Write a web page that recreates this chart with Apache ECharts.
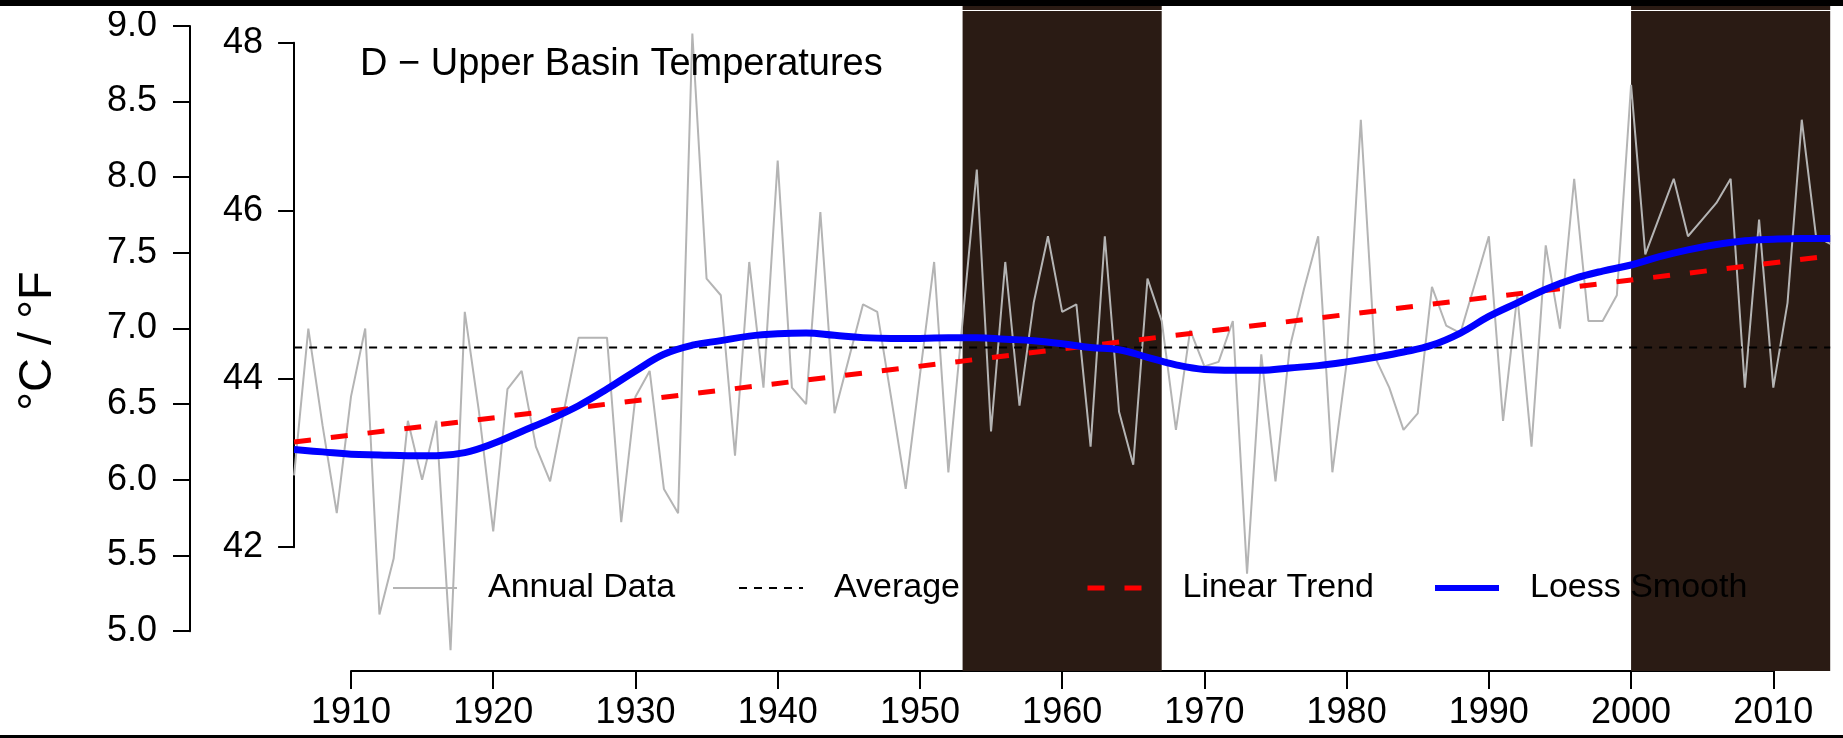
<!DOCTYPE html>
<html><head><meta charset="utf-8">
<script src="https://cdn.jsdelivr.net/npm/echarts@6/dist/echarts.min.js"></script>
<style>html,body{margin:0;padding:0;background:#fff}#c{width:1843px;height:738px}</style>
</head><body><div id="c"></div>
<script>
// ---------------- data (°C) ----------------
const years = [1906,1907,1908,1909,1910,1911,1912,1913,1914,1915,
  1916,1917,1918,1919,1920,1921,1922,1923,1924,1925,
  1926,1927,1928,1929,1930,1931,1932,1933,1934,1935,
  1936,1937,1938,1939,1940,1941,1942,1943,1944,1945,
  1946,1947,1948,1949,1950,1951,1952,1953,1954,1955,
  1956,1957,1958,1959,1960,1961,1962,1963,1964,1965,
  1966,1967,1968,1969,1970,1971,1972,1973,1974,1975,
  1976,1977,1978,1979,1980,1981,1982,1983,1984,1985,
  1986,1987,1988,1989,1990,1991,1992,1993,1994,1995,
  1996,1997,1998,1999,2000,2001,2002,2003,2004,2005,
  2006,2007,2008,2009,2010,2011,2012,2013,2014];
const annualC = [6.03,7.00,6.36,5.78,6.55,7.00,5.11,5.48,6.39,6.00,
  6.39,4.875,7.11,6.45,5.66,6.60,6.72,6.22,5.99,6.47,
  6.94,6.94,6.94,5.72,6.55,6.72,5.94,5.78,8.95,7.33,
  7.22,6.16,7.44,6.61,8.11,6.61,6.50,7.77,6.44,6.80,
  7.16,7.11,6.53,5.94,6.69,7.44,6.05,7.05,8.05,6.32,
  7.44,6.49,7.17,7.61,7.11,7.16,6.22,7.61,6.45,6.10,
  7.33,7.05,6.33,6.99,6.75,6.78,7.05,5.38,6.83,5.99,
  6.875,7.26,7.61,6.05,6.77,8.38,6.81,6.61,6.33,6.44,
  7.275,7.02,6.97,7.29,7.61,6.39,7.22,6.22,7.55,7.00,
  7.99,7.05,7.05,7.22,8.61,7.49,7.74,7.99,7.61,7.72,
  7.83,7.99,6.61,7.72,6.61,7.17,8.38,7.61,7.56];
const loessYears = [1906,1908,1910,1912,1914,1916,1918,1920,1922,1924,1926,1928,1930,1932,1934,1936,1938,1940,1942,1944,1946,1948,1950,1952,1954,1956,1958,1960,1962,1964,1966,1968,1970,1972,1974,1976,1978,1980,1982,1984,1986,1988,1990,1992,1994,1996,1998,2000,2002,2004,2006,2008,2010,2012,2014];
const loessC = [6.20,6.185,6.17,6.165,6.16,6.16,6.18,6.24,6.32,6.40,6.49,6.60,6.72,6.83,6.89,6.92,6.95,6.965,6.97,6.955,6.94,6.935,6.935,6.94,6.94,6.93,6.92,6.90,6.875,6.86,6.81,6.76,6.73,6.725,6.725,6.74,6.755,6.78,6.81,6.845,6.89,6.97,7.08,7.17,7.26,7.33,7.38,7.42,7.475,7.52,7.555,7.58,7.59,7.595,7.595];
const trendYears = [1906, 2014];
const trendC = [6.25, 7.48];
const averageC = 6.875;
const shadeRanges = [[1953, 1967], [2000, 2014]];
const xTickYears = [1910, 2010, 10];     // min, max, step of the year axis
const celsiusTicks = [5, 9, 0.5];        // min, max, step
const fahrenheitTicks = [42, 48, 2];     // min, max, step
const titleText = 'D \u2212 Upper Basin Temperatures';
const yTitle = '°C / °F';
const legendNames = ['Annual Data', 'Average', 'Linear Trend', 'Loess Smooth'];

// ---------------- layout ----------------
const FONT = 'Liberation Sans, Arial, Helvetica, sans-serif';
const X0 = 294.1, X1 = 1830.2;            // pixel x of first / last data year
const YR0 = years[0], YR1 = years[years.length - 1];
const xOf = y => X0 + (y - YR0) * (X1 - X0) / (YR1 - YR0);
const C9Y = 25.9, C5Y = 631.2;             // pixel y of 9.0°C / 5.0°C
const yOfC = c => C9Y + (celsiusTicks[1] - c) * (C5Y - C9Y) / (celsiusTicks[1] - celsiusTicks[0]);
const F48Y = yOfC((fahrenheitTicks[1] - 32) / 1.8);
const F42Y = yOfC((fahrenheitTicks[0] - 32) / 1.8);
const SHADE_TOP = 6, AXIS_Y = 671;

const pairs = (xs, ys) => xs.map((x, i) => [x, ys[i]]);

const chart = echarts.init(document.getElementById('c'), null, {renderer: 'canvas'});
const axisLineStyle = {color: '#000', width: 2};

const legendLefts = [392, 738, 1085, 1432];
const legendWidths = [2, 2, 5, 6];

chart.setOption({
  animation: false,
  backgroundColor: '#fff',
  title: {
    text: titleText, left: 360, top: 46, padding: 0,
    textStyle: {fontSize: 38, fontWeight: 'normal', color: '#000', fontFamily: FONT, lineHeight: 38}
  },
  grid: [
    {left: X0, width: X1 - X0, top: C9Y, height: C5Y - C9Y},
    {left: X0, width: X1 - X0, top: F48Y, height: F42Y - F48Y},
    {left: X0, width: X1 - X0, top: SHADE_TOP, height: AXIS_Y - SHADE_TOP},
    {left: xOf(xTickYears[0]), width: xOf(xTickYears[1]) - xOf(xTickYears[0]), top: SHADE_TOP, height: AXIS_Y - SHADE_TOP}
  ],
  xAxis: [
    {gridIndex: 0, type: 'value', min: YR0, max: YR1, show: false},
    {gridIndex: 1, type: 'value', min: YR0, max: YR1, show: false},
    {gridIndex: 2, type: 'value', min: YR0, max: YR1, show: false},
    {gridIndex: 3, type: 'value', min: xTickYears[0], max: xTickYears[1], interval: xTickYears[2],
      position: 'bottom',
      axisLine: {show: true, lineStyle: axisLineStyle},
      axisTick: {show: true, length: 18, lineStyle: axisLineStyle},
      axisLabel: {fontSize: 36, color: '#000', fontFamily: FONT, margin: 24, formatter: v => String(v)},
      splitLine: {show: false}}
  ],
  yAxis: [
    {gridIndex: 0, type: 'value', min: celsiusTicks[0], max: celsiusTicks[1], interval: celsiusTicks[2],
      position: 'left', offset: X0 - 190,
      axisLine: {show: true, lineStyle: axisLineStyle},
      axisTick: {show: true, length: 17, lineStyle: axisLineStyle},
      axisLabel: {fontSize: 36, color: '#000', fontFamily: FONT, margin: 33, formatter: v => v.toFixed(1)},
      splitLine: {show: false}},
    {gridIndex: 1, type: 'value', min: fahrenheitTicks[0], max: fahrenheitTicks[1], interval: fahrenheitTicks[2],
      position: 'left', offset: 0,
      axisLine: {show: true, lineStyle: axisLineStyle},
      axisTick: {show: true, length: 16, lineStyle: axisLineStyle},
      axisLabel: {fontSize: 36, color: '#000', fontFamily: FONT, margin: 31},
      splitLine: {show: false}},
    {gridIndex: 2, type: 'value', min: 0, max: 1, show: false},
    {gridIndex: 3, type: 'value', min: 0, max: 1, show: false}
  ],
  legend: legendNames.map((n, i) => ({
    data: [n], left: legendLefts[i], top: 571, padding: 0,
    itemWidth: 64, itemHeight: 40, selectedMode: false, z: 10,
    itemStyle: {opacity: 0},
    lineStyle: {width: legendWidths[i]},
    textStyle: {fontSize: 34, color: '#000', fontFamily: FONT, padding: [0, 0, 0, 26]}
  })),
  series: [
    {type: 'line', xAxisIndex: 2, yAxisIndex: 2, data: [], symbol: 'none', silent: true, z: 1,
      markArea: {silent: true, label: {show: false}, itemStyle: {color: '#2a1b14', opacity: 1},
        data: shadeRanges.map(r => [{xAxis: r[0]}, {xAxis: r[1]}])}},
    {name: legendNames[0], type: 'line', xAxisIndex: 0, yAxisIndex: 0, data: pairs(years, annualC),
      symbol: 'none', clip: false, z: 3, lineStyle: {color: '#b4b4b4', width: 2}, itemStyle: {color: '#b4b4b4'}},
    {name: legendNames[1], type: 'line', xAxisIndex: 0, yAxisIndex: 0, data: [[YR0, averageC], [YR1, averageC]],
      symbol: 'none', clip: false, z: 4, lineStyle: {color: '#000', width: 2, type: [8, 7]}, itemStyle: {color: '#000'}},
    {name: legendNames[2], type: 'line', xAxisIndex: 0, yAxisIndex: 0, data: pairs(trendYears, trendC),
      symbol: 'none', clip: false, z: 5, lineStyle: {color: '#ff0000', width: 5, type: [17, 20]}, itemStyle: {color: '#ff0000'}},
    {name: legendNames[3], type: 'line', xAxisIndex: 0, yAxisIndex: 0, data: pairs(loessYears, loessC),
      symbol: 'none', clip: false, smooth: 0.4, z: 6, lineStyle: {color: '#0000ff', width: 7}, itemStyle: {color: '#0000ff'}}
  ],
  graphic: [
    {type: 'rect', shape: {x: 0, y: 0, width: 1843, height: 6}, style: {fill: '#000'}, z: 100, silent: true},
    {type: 'rect', shape: {x: 0, y: 735, width: 1843, height: 3}, style: {fill: '#000'}, z: 100, silent: true},
    {type: 'line', shape: {x1: 0, y1: 10.5, x2: 1843, y2: 10.5}, style: {stroke: '#fff', lineWidth: 1.2}, z: 100, silent: true},
    {type: 'text', x: 38, y: 341, rotation: Math.PI / 2, z: 100, silent: true,
      style: {text: yTitle, x: 0, y: 0, font: '47px ' + FONT, fill: '#000', align: 'center', verticalAlign: 'middle'}}
  ]
});
</script></body></html>
